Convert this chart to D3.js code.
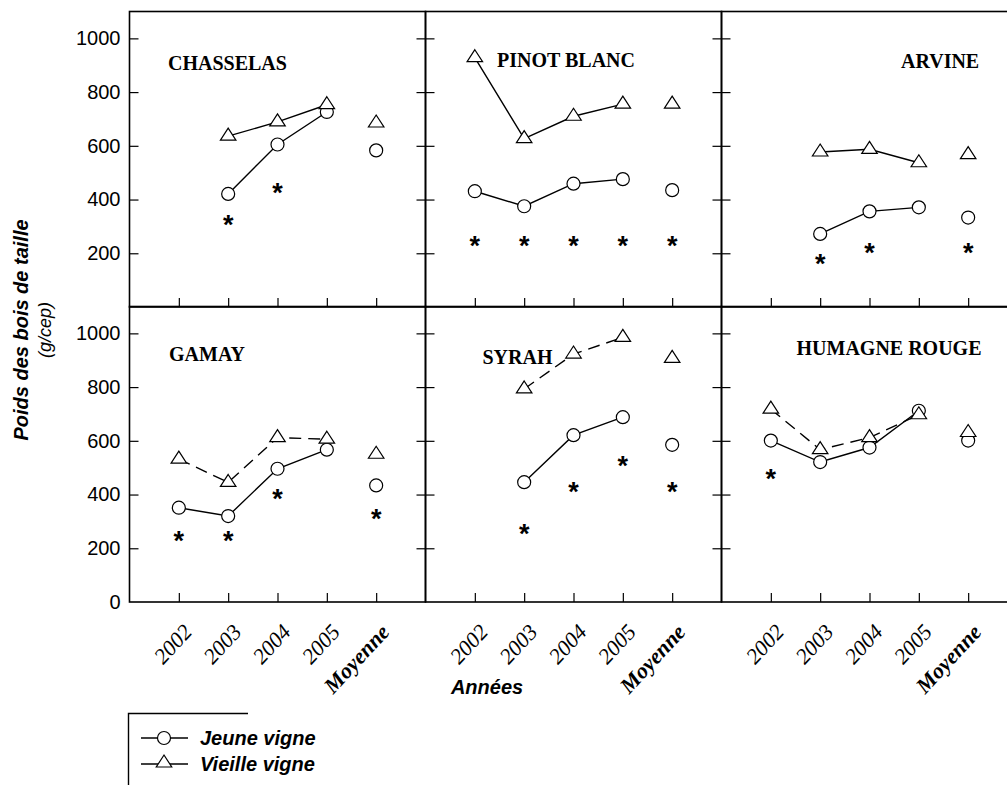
<!DOCTYPE html>
<html>
<head>
<meta charset="utf-8">
<script src="https://cdn.jsdelivr.net/npm/d3@7"></script>
<style>
  body { margin: 0; background: #fff; }
</style>
</head>
<body>
<div id="container"></div>
<script>
// data we work with
const annees = ["2002", "2003", "2004", "2005", "Moyenne"];
const cepages = ["CHASSELAS", "PINOT BLANC", "ARVINE", "GAMAY", "SYRAH", "HUMAGNE ROUGE"];

// poids des bois de taille (g/cep), jeune vigne
const jeune = [
  [null, 421, 605, 726, 583],
  [431, 375, 459, 476, 435],
  [null, 272, 356, 371, 333],
  [351, 320, 496, 567, 434],
  [null, 446, 621, 688, 585],
  [601, 521, 575, 712, 601]
];

// vieille vigne
const vieille = [
  [null, 636, 689, 753, 685],
  [928, 627, 710, 755, 755],
  [null, 577, 587, 537, 567],
  [532, 445, 612, 606, 550],
  [null, 793, 923, 985, 907],
  [718, 567, 612, 697, 631]
];

// asterisks (difference significative), value where the star sits
const etoiles = [
  [null, 328, 446, null, null],
  [249, 249, 249, 249, 249],
  [null, 184, 224, null, 224],
  [250, 250, 405, null, 331],
  [null, 277, 432, 527, 432],
  [480, null, null, null, null]
];

const yTicks = [0, 200, 400, 600, 800, 1000];
const legende = ["Jeune vigne", "Vieille vigne"];

// layout
const w = 1007;
const h = 785;
const panelW = 296;
const panelH = 295.5;
const colLeft = [129.5, 425.5, 721.5];
const rowTop = [11.5, 306.5];
const dashedOld = [false, false, false, true, true, true];
const titlePos = [[38.5, 58.5], [71.5, 55], [179.5, 56.5], [39.5, 54.5], [57, 57.5], [75, 48.5]];

let svg = d3.select("#container")
  .append("svg")
    .attr("width", w)
    .attr("height", h)
    .style("display", "block");

// custom flat triangle, centred on its centroid
const triangle = {
  draw(ctx, size) {
    const tw = 15.5, th = 12;
    ctx.moveTo(0, -th * 2 / 3);
    ctx.lineTo(tw / 2, th / 3);
    ctx.lineTo(-tw / 2, th / 3);
    ctx.closePath();
  }
};

cepages.forEach(function(nom, i) {
  let col = i % 3;
  let row = Math.floor(i / 3);
  let left = colLeft[col];
  let top = rowTop[row];

  let xScale = d3.scaleLinear().domain([-1, 5]).range([left, left + panelW]);
  let yScale = d3.scaleLinear().domain([0, 1100]).range([top + panelH, top]);

  let g = svg.append("g");

  // y axis, left side (labels only on first column)
  let yl = d3.axisLeft(yScale)
    .tickValues(row == 0 ? yTicks.slice(1) : yTicks)
    .tickSize(-9)
    .tickPadding(9)
    .tickFormat(col == 0 ? d3.format("d") : "");
  let ylG = g.append("g").attr("transform", `translate(${left},0)`).call(yl);
  ylG.select(".domain").remove();
  ylG.selectAll("line").attr("stroke-width", 1.2).filter(d => d == 0).remove();
  ylG.selectAll("text")
    .attr("font-family", "Liberation Sans, Arial, sans-serif")
    .attr("font-size", 20)
    .attr("fill", "#000");

  // y axis, right side ticks
  let yr = d3.axisRight(yScale).tickValues(yTicks.slice(1)).tickSize(-9).tickFormat("");
  let yrG = g.append("g").attr("transform", `translate(${left + panelW},0)`).call(yr);
  yrG.select(".domain").remove();
  yrG.selectAll("line").attr("stroke-width", 1.2);

  // x axis ticks
  let xa = d3.axisBottom(xScale).tickValues(d3.range(annees.length)).tickSize(-9).tickFormat("");
  let xG = g.append("g").attr("transform", `translate(0,${top + panelH})`).call(xa);
  xG.select(".domain").remove();
  xG.selectAll("line").attr("stroke-width", 1.2);

  if (row == 1) {
    xG.selectAll(".tick").append("text")
      .attr("transform", "translate(14,31) rotate(-47)")
      .attr("text-anchor", "end")
      .attr("fill", "#000")
      .attr("font-family", "Liberation Serif, Times New Roman, serif")
      .attr("font-style", "italic")
      .attr("font-weight", (d) => d == 4 ? "bold" : "normal")
      .attr("font-size", 22)
      .text((d) => annees[d]);
  }

  // frame
  g.append("rect")
    .attr("x", left).attr("y", top)
    .attr("width", panelW).attr("height", panelH)
    .attr("fill", "none")
    .attr("stroke", "#000")
    .attr("stroke-width", 1.6);

  // title
  g.append("text")
    .attr("x", left + titlePos[i][0])
    .attr("y", top + titlePos[i][1])
    .attr("font-family", "Liberation Serif, Times New Roman, serif")
    .attr("font-weight", "bold")
    .attr("font-size", 20)
    .text(nom);

  let lineMaker = d3.line()
    .defined(d => d.v != null)
    .x(d => xScale(d.k))
    .y(d => yScale(d.v));

  function pts(arr) {
    return arr.map((v, k) => ({ k: k, v: v }));
  }

  let pj = pts(jeune[i]);
  let pv = pts(vieille[i]);

  // lines connect the years only, not the mean
  g.append("path")
    .attr("d", lineMaker(pj.slice(0, 4)))
    .attr("fill", "none")
    .attr("stroke", "#000")
    .attr("stroke-width", 1.4);

  g.append("path")
    .attr("d", lineMaker(pv.slice(0, 4)))
    .attr("fill", "none")
    .attr("stroke", "#000")
    .attr("stroke-width", 1.4)
    .attr("stroke-dasharray", dashedOld[i] ? "12,7" : null);

  g.selectAll(".rond").data(pj.filter(d => d.v != null)).enter()
    .append("circle")
      .attr("cx", d => xScale(d.k))
      .attr("cy", d => yScale(d.v))
      .attr("r", 6.5)
      .attr("fill", "#fff")
      .attr("stroke", "#000")
      .attr("stroke-width", 1.2);

  g.selectAll(".tri").data(pv.filter(d => d.v != null)).enter()
    .append("path")
      .attr("d", d3.symbol(triangle))
      .attr("transform", d => `translate(${xScale(d.k)},${yScale(d.v)})`)
      .attr("fill", "#fff")
      .attr("stroke", "#000")
      .attr("stroke-width", 1.2);

  g.selectAll(".etoile").data(pts(etoiles[i]).filter(d => d.v != null)).enter()
    .append("text")
      .attr("x", d => xScale(d.k))
      .attr("y", d => yScale(d.v) + 15)
      .attr("text-anchor", "middle")
      .attr("font-family", "Liberation Sans, Arial, sans-serif")
      .attr("font-weight", "bold")
      .attr("font-size", 27)
      .text("*");
});

// axis titles
svg.append("text")
  .attr("transform", "translate(28,330) rotate(-90)")
  .attr("text-anchor", "middle")
  .attr("font-family", "Liberation Sans, Arial, sans-serif")
  .attr("font-weight", "bold")
  .attr("font-style", "italic")
  .attr("font-size", 20)
  .text("Poids des bois de taille");

svg.append("text")
  .attr("transform", "translate(51,330) rotate(-90)")
  .attr("text-anchor", "middle")
  .attr("font-family", "Liberation Sans, Arial, sans-serif")
  .attr("font-style", "italic")
  .attr("font-size", 18)
  .text("(g/cep)");

svg.append("text")
  .attr("x", 487)
  .attr("y", 694)
  .attr("text-anchor", "middle")
  .attr("font-family", "Liberation Sans, Arial, sans-serif")
  .attr("font-weight", "bold")
  .attr("font-style", "italic")
  .attr("font-size", 20)
  .text("Années");

// legend
let leg = svg.append("g");
leg.append("path")
  .attr("d", "M248,713.5H128.5V785")
  .attr("fill", "none")
  .attr("stroke", "#000")
  .attr("stroke-width", 1.4);

legende.forEach(function(lab, k) {
  let yy = 738 + k * 26;
  leg.append("line")
    .attr("x1", 141).attr("x2", 188)
    .attr("y1", yy).attr("y2", yy)
    .attr("stroke", "#000").attr("stroke-width", 1.4);
  if (k == 0) {
    leg.append("circle").attr("cx", 164).attr("cy", yy).attr("r", 6.5)
      .attr("fill", "#fff").attr("stroke", "#000").attr("stroke-width", 1.2);
  } else {
    leg.append("path").attr("d", d3.symbol(triangle))
      .attr("transform", `translate(164,${yy - 1})`)
      .attr("fill", "#fff").attr("stroke", "#000").attr("stroke-width", 1.2);
  }
  leg.append("text")
    .attr("x", 200).attr("y", yy + 7)
    .attr("font-family", "Liberation Sans, Arial, sans-serif")
    .attr("font-weight", "bold")
    .attr("font-style", "italic")
    .attr("font-size", 20)
    .text(lab);
});
</script>
</body>
</html>
